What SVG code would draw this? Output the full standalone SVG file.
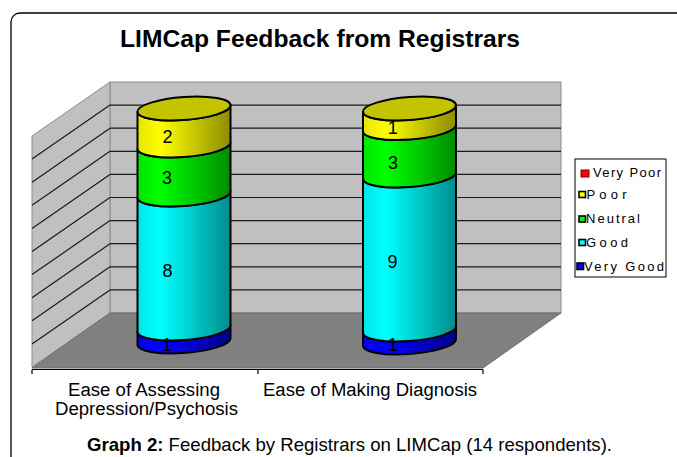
<svg xmlns="http://www.w3.org/2000/svg" width="677" height="457" viewBox="0 0 677 457">
<defs>
<style>
text{font-family:"Liberation Sans",Arial,sans-serif;fill:#000}
.seg{stroke:#000;stroke-width:2;stroke-linejoin:round}
.grid{stroke:#1a1a1a;stroke-width:1.2;fill:none}
.wall{fill:#c0c0c0;stroke:#8c8c8c;stroke-width:1}
.val{font-size:18px;text-anchor:middle}
.leg{font-size:13px}
.cat{font-size:18px;text-anchor:middle}
</style>
<linearGradient id="gBlue" x1="0" x2="1" y1="0" y2="0"><stop offset="0" stop-color="#0000e6"/><stop offset="0.25" stop-color="#0000ff"/><stop offset="1" stop-color="#00008c"/></linearGradient>
<linearGradient id="gCyan" x1="0" x2="1" y1="0" y2="0"><stop offset="0" stop-color="#00e6e6"/><stop offset="0.25" stop-color="#00ffff"/><stop offset="1" stop-color="#008c8c"/></linearGradient>
<linearGradient id="gGreen" x1="0" x2="1" y1="0" y2="0"><stop offset="0" stop-color="#00e600"/><stop offset="0.25" stop-color="#00ff00"/><stop offset="1" stop-color="#008c00"/></linearGradient>
<linearGradient id="gYellow" x1="0" x2="1" y1="0" y2="0"><stop offset="0" stop-color="#e6e600"/><stop offset="0.25" stop-color="#ffff00"/><stop offset="1" stop-color="#8c8c00"/></linearGradient>
</defs>
<rect x="0" y="0" width="677" height="457" fill="#fff"/>
<rect id="frame" x="11" y="13" width="720" height="520" rx="9" fill="#fff" stroke="#000" stroke-width="1.3"/>

<g id="title"><text x="320" y="47" font-size="24" font-weight="bold" text-anchor="middle" textLength="400" lengthAdjust="spacingAndGlyphs">LIMCap Feedback from Registrars</text></g>

<g id="plot-area">
<rect class="wall" x="110" y="82" width="451" height="231"/>
<polygon class="wall" points="32,136 110,82 110,313 32,367"/>
<polygon points="110,313 561,313 483,368 32,368" fill="#808080" stroke="#6e6e6e" stroke-width="1"/>
<g class="grid">
<path d="M110 105.1H561M110 128.2H561M110 151.3H561M110 174.4H561M110 197.5H561M110 220.6H561M110 243.7H561M110 266.8H561M110 289.9H561"/>
<path d="M110 105.1L32 159.1M110 128.2L32 182.2M110 151.3L32 205.3M110 174.4L32 228.4M110 197.5L32 251.5M110 220.6L32 274.6M110 243.7L32 297.7M110 266.8L32 320.8M110 289.9L32 343.9"/>
</g>
<path d="M32 369.5H483M32 369.5V374M258 369.5V374M483 369.5V374" stroke="#000" stroke-width="1.2" fill="none"/>
</g>

<g id="bar1">
<g transform="translate(184 0) skewY(-4)">
<path class="seg" fill="url(#gBlue)" d="M-46.5 328.5L-46.5 341.5A46.5 11.5 0 0 0 46.5 341.5L46.5 328.5A46.5 11.5 0 0 1 -46.5 328.5Z"/>
<path class="seg" fill="url(#gCyan)" d="M-46.5 194.5L-46.5 328.5A46.5 11.5 0 0 0 46.5 328.5L46.5 194.5A46.5 11.5 0 0 1 -46.5 194.5Z"/>
<path class="seg" fill="url(#gGreen)" d="M-46.5 145.5L-46.5 194.5A46.5 11.5 0 0 0 46.5 194.5L46.5 145.5A46.5 11.5 0 0 1 -46.5 145.5Z"/>
<path class="seg" fill="url(#gYellow)" d="M-46.5 108.5L-46.5 145.5A46.5 11.5 0 0 0 46.5 145.5L46.5 108.5A46.5 11.5 0 0 1 -46.5 108.5Z"/>
<ellipse class="seg" cx="0" cy="108.5" rx="46.5" ry="11.5" fill="#c3c300"/>
</g>
<text class="val" x="167.5" y="143.3">2</text>
<text class="val" x="167" y="184.3">3</text>
<text class="val" x="167.5" y="276.7">8</text>
<text class="val" x="167" y="350.7">1</text>
</g>

<g id="bar2">
<g transform="translate(409.5 0) skewY(-4)">
<path class="seg" fill="url(#gBlue)" d="M-46.5 329.5L-46.5 342.5A46.5 11.5 0 0 0 46.5 342.5L46.5 329.5A46.5 11.5 0 0 1 -46.5 329.5Z"/>
<path class="seg" fill="url(#gCyan)" d="M-46.5 175.5L-46.5 329.5A46.5 11.5 0 0 0 46.5 329.5L46.5 175.5A46.5 11.5 0 0 1 -46.5 175.5Z"/>
<path class="seg" fill="url(#gGreen)" d="M-46.5 128L-46.5 175.5A46.5 11.5 0 0 0 46.5 175.5L46.5 128A46.5 11.5 0 0 1 -46.5 128Z"/>
<path class="seg" fill="url(#gYellow)" d="M-46.5 108.5L-46.5 128A46.5 11.5 0 0 0 46.5 128L46.5 108.5A46.5 11.5 0 0 1 -46.5 108.5Z"/>
<ellipse class="seg" cx="0" cy="108.5" rx="46.5" ry="11.5" fill="#c3c300"/>
</g>
<text class="val" x="392.7" y="133.5" font-size="15">1</text>
<text class="val" x="393" y="169.3">3</text>
<text class="val" x="392.5" y="268.3">9</text>
<text class="val" x="392.7" y="350.7">1</text>
</g>

<g id="legend">
<rect x="575" y="159" width="91" height="118" fill="#fff" stroke="#000" stroke-width="1"/>
<rect x="581" y="170" width="8" height="7" fill="#ff0000" stroke="#800000" stroke-width="1"/>
<rect x="579" y="191.5" width="6.5" height="6" fill="#ffff00" stroke="#000" stroke-width="1.6"/>
<rect x="579" y="216" width="6.5" height="6" fill="#00ff00" stroke="#000" stroke-width="1.6"/>
<rect x="579" y="239.5" width="6.5" height="6" fill="#00ffff" stroke="#000" stroke-width="1.6"/>
<rect x="577" y="263" width="6.5" height="6.5" fill="#0000ff" stroke="#000" stroke-width="1.6"/>
<text class="leg" x="593" y="177" textLength="68" lengthAdjust="spacing">Very Poor</text>
<text class="leg" x="586.5" y="198.5" textLength="40" lengthAdjust="spacing">Poor</text>
<text class="leg" x="586" y="222.5" textLength="54" lengthAdjust="spacing">Neutral</text>
<text class="leg" x="586" y="246.5" textLength="42" lengthAdjust="spacing">Good</text>
<text class="leg" x="584" y="270.5" textLength="80" lengthAdjust="spacing">Very Good</text>
</g>

<g id="category-labels">
<text class="cat" x="144" y="396" textLength="152" lengthAdjust="spacingAndGlyphs">Ease of Assessing</text>
<text class="cat" x="146.5" y="415" textLength="183" lengthAdjust="spacingAndGlyphs">Depression/Psychosis</text>
<text class="cat" x="370" y="396" textLength="214" lengthAdjust="spacingAndGlyphs">Ease of Making Diagnosis</text>
</g>

<g id="caption"><text x="87" y="451" font-size="18.5" textLength="525" lengthAdjust="spacingAndGlyphs"><tspan font-weight="bold">Graph 2:</tspan> Feedback by Registrars on LIMCap (14 respondents).</text></g>
</svg>
